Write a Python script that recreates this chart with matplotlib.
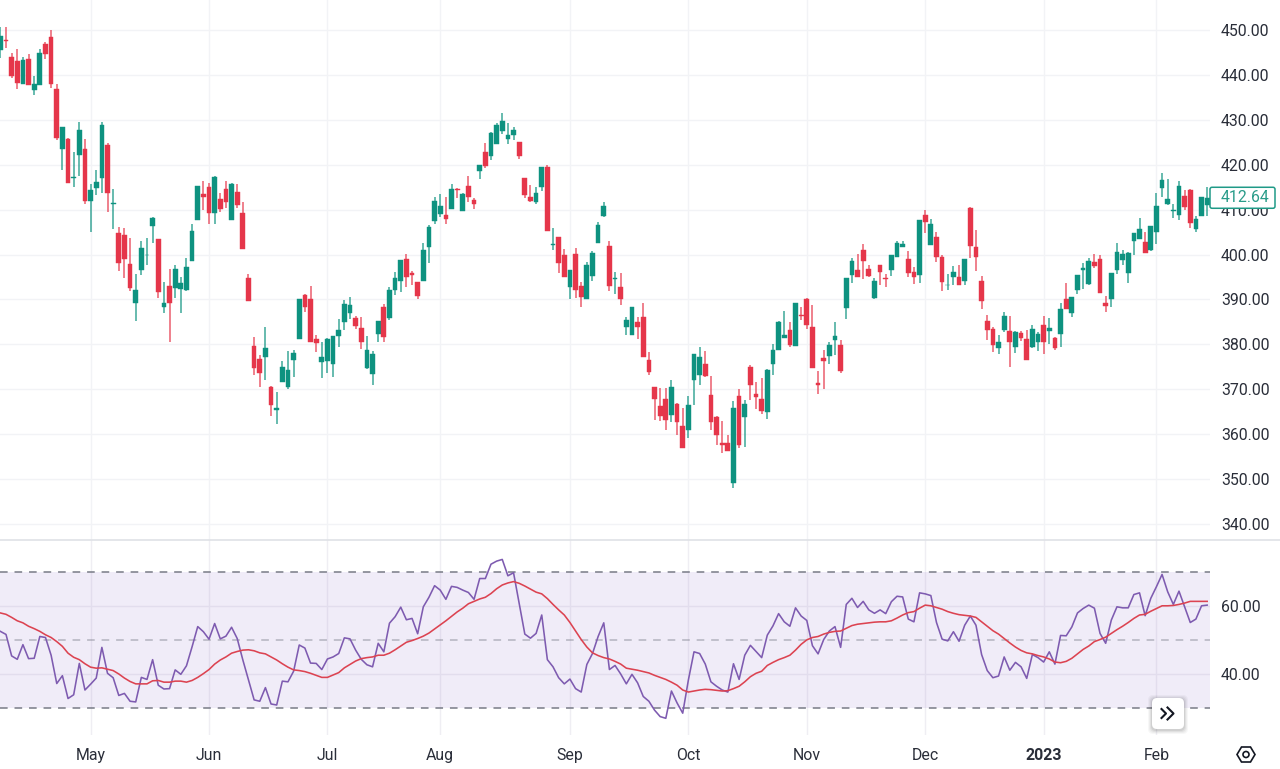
import matplotlib
matplotlib.use("Agg")
import matplotlib.pyplot as plt
import numpy as np
from matplotlib.patches import FancyBboxPatch, Circle, Polygon

plt.rcParams["font.family"] = ["Roboto", "DejaVu Sans"]

# Daily candles
opens = [
    445.5, 447.9, 444.1, 443.0, 437.9, 443.5, 436.7, 437.7, 446.9, 448.4,
    436.8, 423.5, 425.8, 417.1, 422.2, 423.5, 411.9, 414.9, 417.0, 424.3,
    411.2, 404.9, 404.3, 397.9, 389.1, 396.5, 399.9, 406.3, 403.4, 388.3,
    393.0, 392.6, 392.3, 392.0, 398.5, 407.8, 413.5, 415.1, 409.3, 412.3,
    414.7, 407.8, 413.9, 409.2, 394.8, 379.7, 376.8, 377.2, 370.4, 365.3,
    371.6, 370.4, 376.5, 381.2, 391.0, 390.1, 381.1, 376.0, 376.2, 375.6,
    381.9, 384.9, 387.0, 385.8, 383.6, 374.8, 373.4, 382.4, 388.4, 385.8,
    392.2, 394.0, 398.9, 395.9, 393.9, 394.2, 401.7, 407.5, 409.0, 408.9,
    410.2, 414.6, 409.6, 415.2, 412.1, 418.7, 422.9, 422.0, 424.6, 427.6,
    425.8, 426.7, 425.0, 417.1, 412.9, 411.8, 415.1, 419.4, 402.1, 403.8,
    399.9, 392.7, 400.1, 393.0, 390.2, 395.3, 402.5, 408.6, 401.8, 394.5,
    392.8, 383.9, 382.1, 384.9, 386.0, 376.5, 370.4, 366.2, 367.9, 364.2,
    366.7, 361.7, 360.9, 372.1, 373.1, 375.5, 368.8, 363.8, 358.1, 358.1,
    349.1, 368.4, 363.8, 375.0, 368.9, 367.9, 365.0, 375.7, 378.8, 381.4,
    383.1, 379.7, 386.6, 390.1, 383.8, 371.3, 376.9, 377.5, 381.0, 379.8,
    388.0, 395.5, 396.6, 401.1, 396.7, 390.3, 397.7, 394.8, 396.5, 399.5,
    401.7, 399.1, 396.1, 395.4, 408.8, 402.2, 404.0, 399.5, 393.1, 395.1,
    394.9, 394.1, 410.3, 401.7, 394.2, 385.2, 383.5, 379.1, 383.1, 382.9,
    379.4, 382.6, 381.1, 379.4, 380.5, 384.3, 383.0, 381.5, 382.4, 390.2,
    387.0, 392.0, 396.5, 393.5, 398.3, 399.0, 389.2, 390.0, 396.6, 398.8,
    395.8, 402.9, 403.5, 402.7, 400.9, 405.1, 414.8, 411.3, 409.7, 408.8,
    413.1, 414.4, 405.7, 408.5, 411.1,
]
closes = [
    448.7, 447.5, 439.8, 438.1, 443.3, 437.7, 437.9, 444.9, 444.7, 437.9,
    425.9, 428.4, 415.9, 417.3, 427.8, 411.9, 414.3, 416.2, 428.9, 413.7,
    411.4, 398.0, 398.9, 392.5, 392.2, 401.5, 400.0, 408.2, 391.6, 389.3,
    389.3, 396.7, 393.7, 397.2, 405.2, 415.2, 412.8, 409.3, 417.3, 410.2,
    411.6, 415.6, 411.0, 401.2, 389.6, 374.8, 373.7, 379.1, 366.4, 365.7,
    374.9, 374.2, 378.0, 390.0, 388.4, 380.5, 380.2, 377.1, 381.2, 381.8,
    383.2, 389.0, 388.7, 384.1, 380.6, 378.7, 377.8, 385.1, 381.7, 392.2,
    394.7, 398.7, 394.9, 395.5, 390.7, 400.9, 406.1, 412.0, 410.7, 407.9,
    414.5, 414.4, 413.4, 412.9, 411.2, 420.0, 419.8, 427.1, 428.9, 429.7,
    426.6, 427.8, 422.0, 413.2, 412.0, 413.6, 419.4, 405.2, 402.4, 398.0,
    395.1, 396.5, 392.0, 390.6, 397.7, 400.3, 406.5, 410.9, 393.0, 394.8,
    390.0, 385.5, 388.4, 383.9, 377.2, 373.9, 367.8, 364.0, 363.1, 370.4,
    362.6, 357.0, 366.4, 377.8, 377.1, 372.9, 362.6, 359.7, 357.5, 356.2,
    365.8, 357.5, 366.7, 371.0, 368.3, 365.2, 374.2, 378.8, 384.9, 382.0,
    379.8, 389.2, 386.4, 384.4, 374.8, 371.0, 376.2, 379.9, 381.9, 374.0,
    394.8, 398.6, 395.0, 398.5, 395.3, 394.2, 396.0, 394.6, 399.8, 402.5,
    402.3, 395.9, 395.1, 407.6, 407.3, 406.9, 399.5, 393.9, 393.3, 396.2,
    393.1, 398.9, 401.9, 399.4, 389.6, 383.2, 379.9, 380.5, 386.2, 380.6,
    382.8, 381.3, 376.5, 383.4, 382.4, 380.6, 383.7, 379.1, 387.9, 387.8,
    390.5, 395.4, 396.9, 398.5, 397.5, 391.4, 388.5, 395.8, 400.5, 400.1,
    400.3, 404.7, 405.6, 400.4, 406.4, 410.7, 416.7, 412.3, 409.9, 415.2,
    410.5, 407.0, 407.9, 412.8, 412.64,
]
highs = [
    450.6, 450.6, 444.9, 445.7, 444.1, 444.6, 439.7, 445.7, 447.4, 450.0,
    438.0, 428.5, 426.0, 422.8, 429.5, 425.8, 415.7, 418.8, 429.6, 424.9,
    414.6, 406.2, 405.9, 403.7, 395.6, 403.1, 403.7, 408.4, 403.5, 393.9,
    396.8, 397.6, 395.0, 399.3, 406.8, 415.3, 416.3, 416.0, 417.4, 413.8,
    416.4, 415.9, 415.7, 411.6, 395.7, 381.7, 377.7, 383.8, 370.7, 369.3,
    376.3, 378.5, 378.7, 390.0, 391.3, 393.0, 382.0, 380.5, 381.5, 381.8,
    385.7, 389.8, 390.6, 386.4, 386.0, 381.8, 378.4, 385.1, 388.9, 392.7,
    396.0, 398.7, 400.1, 396.4, 393.9, 402.6, 406.6, 412.9, 413.4, 412.8,
    415.6, 414.9, 413.8, 417.5, 412.5, 420.0, 424.8, 427.2, 429.3, 431.6,
    429.4, 428.5, 425.1, 417.1, 415.4, 415.0, 419.5, 419.9, 405.8, 404.0,
    401.2, 396.6, 401.5, 393.9, 398.4, 400.8, 407.3, 411.6, 403.0, 396.0,
    395.8, 386.1, 388.4, 386.0, 389.3, 378.2, 370.5, 370.2, 370.2, 372.1,
    366.9, 365.8, 368.4, 377.9, 379.3, 378.6, 373.0, 364.0, 362.9, 359.7,
    367.4, 370.1, 367.7, 375.3, 371.7, 372.4, 374.6, 380.0, 385.1, 387.5,
    385.0, 389.3, 388.4, 390.3, 388.7, 374.1, 378.8, 380.4, 385.0, 381.0,
    394.8, 399.3, 400.2, 402.3, 397.7, 394.8, 397.7, 395.7, 400.0, 402.9,
    403.0, 400.8, 397.2, 407.7, 410.0, 407.9, 405.0, 400.0, 395.7, 397.4,
    397.7, 399.0, 410.5, 405.5, 395.3, 386.6, 383.8, 382.1, 387.3, 386.2,
    382.9, 383.0, 383.2, 384.3, 382.8, 386.4, 385.8, 381.7, 389.1, 393.6,
    390.5, 395.5, 398.2, 399.2, 400.1, 400.0, 390.8, 395.9, 402.6, 401.1,
    400.6, 404.8, 408.1, 405.1, 406.4, 413.7, 418.1, 416.9, 411.2, 416.4,
    414.4, 414.6, 408.5, 412.8, 415.0,
]
lows = [
    443.7, 445.9, 439.4, 436.8, 437.9, 437.7, 435.6, 437.7, 443.5, 437.1,
    425.4, 418.8, 415.9, 415.1, 417.6, 411.3, 405.0, 413.3, 413.7, 409.4,
    405.7, 396.4, 394.7, 391.9, 385.2, 395.5, 397.6, 402.6, 390.4, 387.0,
    380.4, 390.3, 387.0, 391.9, 398.5, 407.8, 409.9, 406.9, 406.9, 409.5,
    410.4, 407.6, 410.3, 401.2, 389.6, 373.2, 370.4, 372.0, 364.0, 362.2,
    371.6, 370.1, 372.8, 381.2, 387.3, 380.5, 378.3, 372.5, 373.6, 372.8,
    379.4, 383.2, 385.7, 383.5, 378.9, 374.6, 371.0, 380.5, 380.6, 385.5,
    391.0, 391.7, 392.7, 393.2, 390.0, 394.1, 398.2, 406.7, 408.4, 406.8,
    410.1, 412.5, 409.6, 411.8, 410.2, 416.8, 419.2, 421.1, 424.6, 426.9,
    424.6, 425.5, 421.2, 412.5, 411.8, 411.3, 414.2, 405.2, 401.1, 395.9,
    395.1, 390.0, 390.4, 388.4, 390.2, 394.1, 402.5, 408.4, 391.9, 391.1,
    388.8, 382.1, 382.1, 381.2, 377.2, 373.2, 363.2, 362.9, 360.9, 362.6,
    359.7, 357.0, 359.2, 366.4, 370.9, 372.8, 360.9, 357.5, 355.7, 356.2,
    348.0, 356.8, 357.1, 367.5, 365.5, 364.4, 363.4, 373.2, 378.8, 381.4,
    379.4, 379.7, 385.3, 383.4, 374.8, 368.9, 370.0, 375.6, 377.7, 373.7,
    385.7, 393.7, 395.0, 394.6, 394.9, 390.2, 393.1, 392.8, 395.2, 399.4,
    401.7, 395.1, 393.4, 393.6, 404.9, 402.2, 398.3, 391.8, 392.0, 393.3,
    393.1, 393.3, 399.2, 396.4, 387.9, 381.0, 378.3, 377.8, 382.7, 374.9,
    378.1, 380.8, 376.5, 379.1, 378.4, 377.8, 380.0, 378.7, 379.3, 387.8,
    386.1, 391.3, 392.4, 393.3, 396.9, 391.4, 387.2, 388.4, 395.7, 397.7,
    393.6, 399.9, 403.5, 400.3, 400.7, 402.4, 412.9, 411.1, 408.2, 407.7,
    409.9, 405.8, 405.1, 408.5, 408.6,
]

# RSI and its moving average
rsi = [
    52.5, 51.6, 45.3, 44.3, 48.6, 44.5, 44.6, 51.0, 50.7, 45.5, 37.2, 39.5, 32.8, 33.9, 43.1,
    35.3, 37.0, 38.8, 47.8, 40.2, 38.9, 33.7, 34.3, 32.0, 31.8, 39.0, 38.4, 44.2, 36.7, 35.6,
    35.7, 41.2, 39.9, 42.4, 48.0, 53.9, 52.4, 50.2, 54.8, 50.3, 51.1, 53.7, 50.4, 44.1, 38.2,
    32.4, 32.0, 36.0, 31.2, 30.9, 37.9, 37.7, 40.8, 48.5, 47.6, 43.2, 43.1, 41.3, 44.4, 45.0,
    46.0, 50.6, 50.3, 47.0, 44.3, 42.7, 42.1, 49.0, 46.5, 54.9, 56.8, 59.6, 55.9, 56.3, 51.8,
    59.7, 62.5, 65.9, 64.6, 61.9, 65.7, 65.4, 64.6, 63.9, 61.9, 68.0, 68.0, 72.2, 73.1, 73.6,
    68.8, 69.7, 60.7, 51.7, 50.5, 51.9, 57.3, 44.2, 42.1, 38.9, 37.1, 38.5, 35.7, 34.7, 42.8,
    46.0, 51.0, 55.0, 41.3, 42.5, 40.0, 37.1, 39.9, 37.4, 33.4, 32.0, 29.4, 27.5, 27.0, 35.0,
    31.5, 28.5, 38.2, 46.5, 46.0, 42.9, 37.7, 36.4, 35.3, 34.7, 43.0, 38.4, 45.5, 48.4, 46.6,
    44.8, 51.4, 54.1, 57.7, 55.3, 54.0, 59.4, 57.0, 55.7, 48.3, 45.9, 50.1, 52.6, 53.9, 47.8,
    60.4, 62.2, 59.5, 61.3, 58.8, 57.8, 58.8, 57.7, 61.2, 62.8, 62.6, 56.1, 55.3, 63.8, 63.5,
    63.0, 55.1, 50.2, 49.7, 52.4, 49.6, 54.3, 57.0, 54.3, 45.7, 41.0, 38.9, 39.4, 45.0, 41.1,
    43.4, 42.1, 38.7, 45.7, 44.8, 43.5, 46.5, 42.9, 51.3, 51.2, 53.8, 57.9, 59.2, 60.2, 59.3,
    51.9, 49.0, 55.8, 59.7, 59.4, 59.4, 63.3, 63.8, 57.1, 62.2, 65.6, 69.2, 64.1, 60.4, 64.3,
    59.7, 55.1, 56.1, 60.0, 60.2,
]
rsi_ma = [
    57.9, 57.5, 56.6, 55.6, 55.0, 54.0, 53.3, 52.5, 51.5, 50.7, 49.5, 48.1, 46.1, 44.9, 44.2,
    43.0, 42.0, 41.7, 41.8, 41.4, 41.0, 40.0, 38.8, 37.8, 37.1, 37.1, 37.1, 38.0, 38.1, 37.6,
    37.6, 37.9, 37.9, 37.6, 38.1, 39.0, 40.1, 41.3, 42.9, 44.1, 45.0, 46.1, 46.6, 47.0, 47.1,
    46.8, 46.2, 45.9, 45.0, 44.1, 43.0, 42.0, 41.2, 41.0, 40.7, 40.2, 39.6, 39.0, 39.0, 39.7,
    40.4, 41.8, 42.8, 43.8, 44.5, 44.8, 45.0, 45.5, 45.5, 46.1, 47.1, 48.2, 49.3, 49.8, 50.4,
    51.1, 52.0, 53.2, 54.4, 55.6, 56.9, 58.2, 59.3, 60.6, 61.3, 62.0, 62.5, 63.6, 65.0, 66.1,
    66.7, 67.1, 66.6, 65.8, 64.9, 64.0, 63.5, 62.1, 60.4, 58.8, 57.3, 55.1, 52.6, 50.1, 47.9,
    46.2, 45.4, 44.8, 44.4, 43.7, 42.9, 41.7, 41.4, 41.1, 40.7, 40.3, 39.6, 39.0, 38.4, 37.6,
    36.7, 35.3, 34.7, 35.0, 35.3, 35.5, 35.4, 35.2, 35.0, 35.1, 35.7, 36.4, 37.7, 39.2, 40.2,
    40.8, 42.5, 43.4, 44.2, 44.8, 45.5, 47.0, 48.7, 50.0, 50.7, 51.0, 51.7, 52.2, 52.5, 52.6,
    53.4, 54.2, 54.6, 54.8, 55.0, 55.2, 55.3, 55.3, 55.6, 56.4, 57.3, 58.0, 58.3, 59.3, 60.2,
    60.0, 59.5, 59.0, 58.3, 57.8, 57.4, 57.2, 57.0, 56.6, 55.3, 54.0, 52.7, 51.7, 50.4, 49.1,
    47.9, 46.9, 46.2, 45.9, 45.4, 45.0, 44.4, 43.5, 43.3, 43.7, 44.6, 45.9, 47.2, 48.2, 49.5,
    50.1, 50.8, 51.9, 53.0, 54.0, 55.1, 56.3, 57.3, 57.5, 58.4, 59.2, 60.0, 60.0, 60.1, 60.4,
    60.8, 61.3, 61.3, 61.3, 61.3,
]

month_pos = [16, 37, 58, 78, 101, 122, 143, 164, 185, 205]
month_labels = ["May", "Jun", "Jul", "Aug", "Sep", "Oct", "Nov", "Dec", "2023", "Feb"]
price_ticks = [340, 350, 360, 370, 380, 390, 400, 410, 420, 430, 440, 450]
rsi_grid = [40, 60]
last_price = 412.64

GREEN = "#0e9280"
RED = "#e5364a"
GRID = "#f2f3f6"
TEXT = "#2a2e39"

W, H = 1280, 769
fig = plt.figure(figsize=(W / 100, H / 100), dpi=100)
ax1 = fig.add_axes([0, 1 - 540 / H, 1210 / W, 540 / H])
ax2 = fig.add_axes([0, 1 - 735 / H, 1210 / W, 195 / H])

x = np.arange(len(closes))
opens, closes, highs, lows = map(np.array, (opens, closes, highs, lows))
colors = np.where(closes >= opens, GREEN, RED)

# Candles
ax1.vlines(x, lows, highs, colors=colors, lw=1.1, alpha=0.8, zorder=2)
ax1.bar(x, np.abs(closes - opens), bottom=np.minimum(opens, closes), width=0.84,
        color=colors, edgecolor=colors, lw=0.3, zorder=3)
ax1.set_xlim(-0.064, 214.5)
ax1.set_ylim(336.4, 456.7)
ax1.set_yticks(price_ticks)
ax1.set_yticklabels([f"{t:.2f}" for t in price_ticks])
ax1.set_xticks(month_pos)
ax1.set_xticklabels([])
ax1.grid(color=GRID, lw=1.0, zorder=0)
ax1.set_axisbelow(True)

# RSI panel
ax2.axhspan(30, 70, color="#7e57c2", alpha=0.11, lw=0, zorder=1)
ax2.axhline(70, color="#787b86", lw=1.1, ls=(0, (5, 4.5)), zorder=2)
ax2.axhline(50, color="#787b86", lw=1.1, ls=(0, (5, 4.5)), alpha=0.5, zorder=2)
ax2.axhline(30, color="#787b86", lw=1.1, ls=(0, (5, 4.5)), zorder=2)
ax2.plot(x, rsi, color="#7e5bb0", lw=1.15, zorder=3)
ax2.plot(x, rsi_ma, color="#dc4351", lw=1.15, zorder=4)
ax2.set_xlim(-0.064, 214.5)
ax2.set_ylim(22.1, 79.3)
ax2.set_yticks(rsi_grid)
ax2.set_yticklabels([f"{t:.2f}" for t in rsi_grid])
ax2.set_xticks(month_pos)
ax2.set_xticklabels(month_labels)
ax2.grid(color="#efeef3", lw=1.0, zorder=0)
ax2.set_axisbelow(True)
ax2.patch.set_alpha(0)

for ax in (ax1, ax2):
    for s in ax.spines.values():
        s.set_visible(False)
    ax.yaxis.tick_right()
    ax.tick_params(axis="y", length=0, pad=8, labelsize=11.4, labelcolor=TEXT)
    ax.tick_params(axis="x", length=0, pad=9.5, labelsize=11.4, labelcolor=TEXT)
ax2.get_xticklabels()[8].set_fontweight("bold")

# Separator, price tag, scroll button and settings icon, laid out in pixels
ov = fig.add_axes([0, 0, 1, 1], zorder=10)
ov.set_xlim(0, W)
ov.set_ylim(H, 0)
ov.axis("off")
ov.plot([0, W], [539.5, 539.5], color="#dfe1e6", lw=1.2)

tag_y = H - ax1.transData.transform((0, last_price))[1]
ov.add_patch(FancyBboxPatch((1210, tag_y - 10.5), 65, 21, boxstyle="round,pad=0,rounding_size=2",
                            fc="white", ec="#1f9a87", lw=1.1))
ov.text(1220.5, tag_y, f"{last_price:.2f}", color="#2a9c8a", fontsize=11.4, ha="left", va="center")

for grow, a in [(4, 0.03), (3, 0.04), (2, 0.05), (1, 0.07)]:
    ov.add_patch(FancyBboxPatch((1152 - grow, 698 - grow + 1), 32 + 2 * grow, 31 + 2 * grow,
                                boxstyle="round,pad=0,rounding_size=5", fc="black", ec="none", alpha=a))
ov.add_patch(FancyBboxPatch((1152, 698), 32, 31, boxstyle="round,pad=0,rounding_size=5",
                            fc="white", ec="none"))
ov.plot([1161.5, 1166, 1161.5], [709, 713.5, 718], color="#131722", lw=1.5)
ov.plot([1167.5, 1173.5, 1167.5], [707.5, 713.5, 719.5], color="#131722", lw=1.5)
ov.add_patch(Polygon([(1237, 754.5), (1241.5, 747), (1250.5, 747), (1255, 754.5), (1250.5, 762), (1241.5, 762)],
                     closed=True, fc="none", ec="#131722", lw=1.2))
ov.add_patch(Circle((1246, 754.5), 3, fc="none", ec="#131722", lw=1.2))

fig.savefig("out.png", dpi=100)
